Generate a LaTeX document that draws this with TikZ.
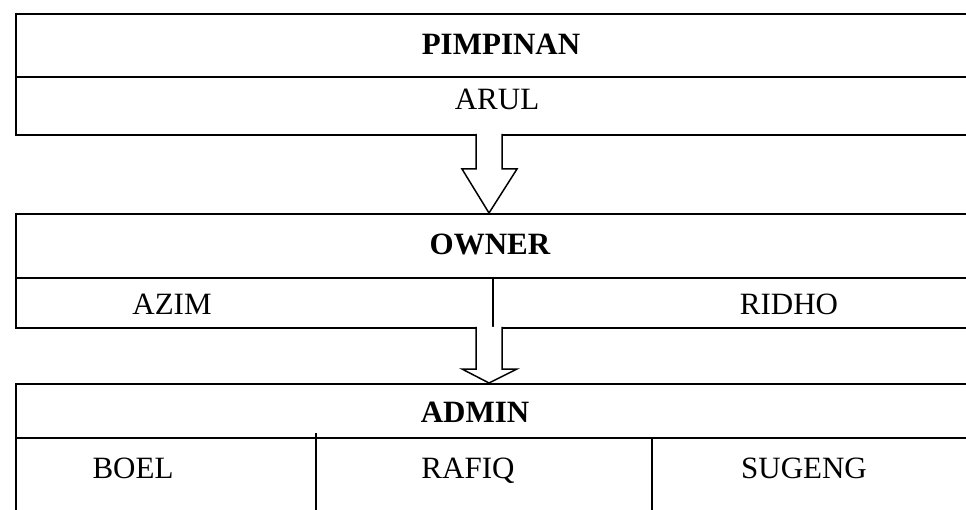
\documentclass[tikz,border=0pt]{standalone}
\usepackage{fontspec}
\setmainfont{Liberation Serif}
\usetikzlibrary{calc}
\begin{document}
\begin{tikzpicture}[x=1pt,y=-1pt,
  rowbox/.style={draw, line width=1.9pt, anchor=north west, inner sep=0pt, minimum width=980pt},
  divline/.style={line width=1.6pt},
  arrowshape/.style={draw, line width=1.5pt, fill=white, line join=miter},
  lbl/.style={anchor=base, inner sep=0pt, font=\fontsize{31}{37}\selectfont},
  hdr/.style={lbl, font=\fontsize{31}{37}\selectfont\bfseries}]
\useasboundingbox (0,0) rectangle (966,510);
% top block
\node[rowbox, minimum height=63pt] (r1a) at (15,13) {};
\node[rowbox, minimum height=58pt] (r1b) at (15,76) {};
% middle block
\node[rowbox, minimum height=64pt] (r2a) at (15,213) {};
\node[rowbox, minimum height=50pt] (r2b) at (15,277) {};
% bottom block
\node[rowbox, minimum height=54pt] (r3a) at (15,383) {};
\node[rowbox, minimum height=100pt] (r3b) at (15,437) {};
% dividers
\coordinate (d2t) at (493,277);
\coordinate (d2b) at (493,327);
\draw[divline] (d2t) -- (d2b);
\coordinate (d3at) at (316,433);
\coordinate (d3ab) at (316,515);
\draw[divline] (d3at) -- (d3ab);
\coordinate (d3bt) at (652,437);
\coordinate (d3bb) at (652,515);
\draw[divline] (d3bt) -- (d3bb);
% arrow 1
\coordinate (a1s) at (489,134);
\coordinate (a1t) at (489,213);
\draw[arrowshape] ($(a1s)+(-13,0)$) -- ($(a1s)+(-13,35)$) -- ($(a1s)+(-27,35)$)
  -- (a1t) -- ($(a1s)+(28,35)$) -- ($(a1s)+(13,35)$) -- ($(a1s)+(13,0)$);
% arrow 2
\coordinate (a2s) at (489,327);
\coordinate (a2t) at (489,383);
\draw[arrowshape] ($(a2s)+(-13,0)$) -- ($(a2s)+(-13,42)$) -- ($(a2s)+(-27,42)$)
  -- (a2t) -- ($(a2s)+(28,42)$) -- ($(a2s)+(13,42)$) -- ($(a2s)+(13,0)$);
% texts
\node[hdr] (tp) at (501,55) {PIMPINAN};
\node[lbl] (ta) at (497,110) {ARUL};
\node[hdr] (to) at (490,255) {OWNER};
\node[lbl] (taz) at (172,315) {AZIM};
\node[lbl] (tri) at (789,315) {RIDHO};
\node[hdr] (tad) at (475,422) {ADMIN};
\node[lbl] (tb) at (133,478) {BOEL};
\node[lbl] (trf) at (468,478) {RAFIQ};
\node[lbl] (ts) at (804,478) {SUGENG};
\end{tikzpicture}
\end{document}
